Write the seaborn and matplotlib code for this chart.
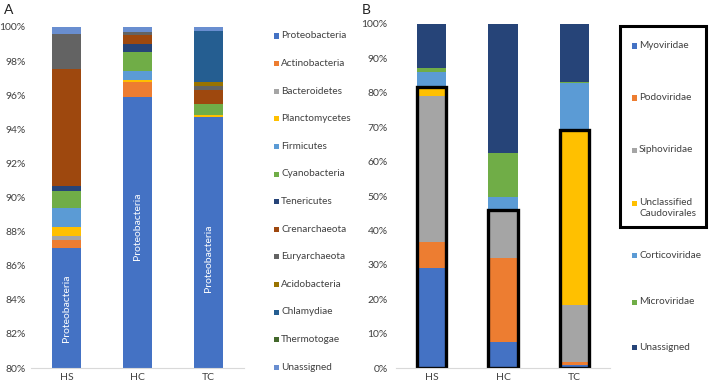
import numpy as np
import pandas as pd
import matplotlib
matplotlib.use("Agg")
import matplotlib.pyplot as plt
from matplotlib.patches import Rectangle
import seaborn as sns

sns.set_theme(style="white")
plt.rcParams['font.family'] = ['Lato', 'DejaVu Sans']

# ---------------- data ----------------
samples = ["HS", "HC", "TC"]

# Panel A (bacterial phyla, % relative abundance), stacked bottom -> top
phyla = ["Proteobacteria", "Actinobacteria", "Bacteroidetes", "Planctomycetes",
         "Firmicutes", "Cyanobacteria", "Tenericutes", "Crenarchaeota",
         "Euryarchaeota", "Acidobacteria", "Chlamydiae", "Thermotogae", "Unassigned"]
proteobacteria = [87.04, 95.92, 94.70]
actinobacteria = [0.45, 0.84, 0.02]
bacteroidetes = [0.23, 0.04, 0.03]
planctomycetes = [0.57, 0.08, 0.07]
firmicutes = [1.08, 0.53, 0.03]
cyanobacteria = [1.03, 1.12, 0.62]
tenericutes = [0.30, 0.47, 0.00]
crenarchaeota = [6.83, 0.53, 0.83]
euryarchaeota = [2.07, 0.19, 0.23]
acidobacteria = [0.00, 0.00, 0.23]
chlamydiae = [0.00, 0.00, 3.00]
thermotogae = [0.00, 0.00, 0.00]
unassigned_a = [0.40, 0.28, 0.24]
phyla_colors = ["#4472C4", "#ED7D31", "#A5A5A5", "#FFC000", "#5B9BD5", "#70AD47",
                "#264478", "#9E480E", "#636363", "#997300", "#255E91", "#43682B", "#698ED0"]

# Panel B (viral families, %)
families = ["Myoviridae", "Podoviridae", "Siphoviridae", "Unclassified\nCaudovirales",
            "Corticoviridae", "Microviridae", "Unassigned"]
myoviridae = [29.2, 7.7, 1.0]
podoviridae = [7.5, 24.2, 0.8]
siphoviridae = [42.4, 14.0, 16.6]
unclassified_caudo = [2.4, 0.0, 50.8]
corticoviridae = [4.5, 3.8, 13.7]
microviridae = [1.1, 12.7, 0.2]
unassigned_b = [12.9, 37.6, 16.9]
family_colors = ["#4472C4", "#ED7D31", "#A5A5A5", "#FFC000", "#5B9BD5", "#70AD47", "#264478"]

a_series = [proteobacteria, actinobacteria, bacteroidetes, planctomycetes, firmicutes,
            cyanobacteria, tenericutes, crenarchaeota, euryarchaeota, acidobacteria,
            chlamydiae, thermotogae, unassigned_a]
b_series = [myoviridae, podoviridae, siphoviridae, unclassified_caudo,
            corticoviridae, microviridae, unassigned_b]

# ---------------- figure ----------------
W, H = 709, 384
fig = plt.figure(figsize=(W / 100, H / 100), dpi=100)

def fx(px):
    return px / W

def fy(py):
    return 1 - py / H

axA = fig.add_axes([fx(31), fy(368), fx(244) - fx(31), fy(27) - fy(368)])
axB = fig.add_axes([fx(396), fy(368.3), fx(610) - fx(396), fy(23.7) - fy(368.3)])

def stacked(ax, series, colors, width):
    arr = np.array(series, dtype=float)
    cum = np.cumsum(arr, axis=0)
    # draw tallest cumulative first, smaller ones over it
    for i in range(len(series) - 1, -1, -1):
        df = pd.DataFrame({"sample": samples, "value": cum[i]})
        sns.barplot(data=df, x="sample", y="value", color=colors[i], width=width,
                    saturation=1, linewidth=0, ax=ax, errorbar=None)
    return cum

cumA = stacked(axA, a_series, phyla_colors, 0.4)
cumB = stacked(axB, b_series, family_colors, 0.41)

# black outline around Caudovirales group (first four families)
dfbox = pd.DataFrame({"sample": samples, "value": cumB[3]})
sns.barplot(data=dfbox, x="sample", y="value", fill=False, color="black",
            width=0.41, linewidth=2.4, ax=axB, errorbar=None)

for ax in (axA, axB):
    ax.set_xlim(-0.5, 2.5)
    ax.set_xlabel("")
    ax.set_ylabel("")
    for s in ("top", "right", "left"):
        ax.spines[s].set_visible(False)
    ax.spines["bottom"].set_color("#D9D9D9")
    ax.spines["bottom"].set_linewidth(0.8)
    ax.tick_params(axis="both", length=0, labelsize=7.5, colors="#404040")
    ax.tick_params(axis="x", pad=3.5)
    ax.grid(False)
axA.tick_params(axis="y", pad=4)
axB.tick_params(axis="y", pad=6)

axA.set_ylim(80, 100)
axA.set_yticks(np.arange(80, 101, 2))
axA.set_yticklabels([f"{v}%" for v in range(80, 101, 2)])
axB.set_ylim(0, 100)
axB.set_yticks(np.arange(0, 101, 10))
axB.set_yticklabels([f"{v}%" for v in range(0, 101, 10)])

# in-bar labels
label_y = [83.5, 88.3, 86.45]
for i, yv in enumerate(label_y):
    axA.text(i, yv, phyla[0], rotation=90, ha="center", va="center",
             color="white", fontsize=7.5)

# panel letters
fig.text(fx(4), fy(10), "A", fontsize=10, ha="left", va="center", color="#222222")
fig.text(fx(362), fy(10), "B", fontsize=10, ha="left", va="center", color="#222222")

# legend A
for k, (name, col) in enumerate(zip(phyla, phyla_colors)):
    y = 36 + k * 27.6
    fig.add_artist(Rectangle((fx(273.5), fy(y + 2.5)), fx(5), 5 / H,
                             facecolor=col, edgecolor="none", transform=fig.transFigure))
    fig.text(fx(281), fy(y), name, fontsize=7.2, ha="left", va="center", color="#404040")

# legend B
legB_y = [46, 98, 150, 208, 255, 302, 347]
for name, col, y in zip(families, family_colors, legB_y):
    first_line_y = y - 5 if "\n" in name else y
    fig.add_artist(Rectangle((fx(631.5), fy(first_line_y + 2.5)), fx(5), 5 / H,
                             facecolor=col, edgecolor="none", transform=fig.transFigure))
    fig.text(fx(639), fy(y), name, fontsize=7.2, ha="left", va="center",
             color="#404040", linespacing=1.25)

fig.add_artist(Rectangle((fx(620), fy(227)), fx(706) - fx(620), fy(26) - fy(227),
                         facecolor="none", edgecolor="black", linewidth=2.2,
                         transform=fig.transFigure))

fig.savefig("out.png", dpi=100)
